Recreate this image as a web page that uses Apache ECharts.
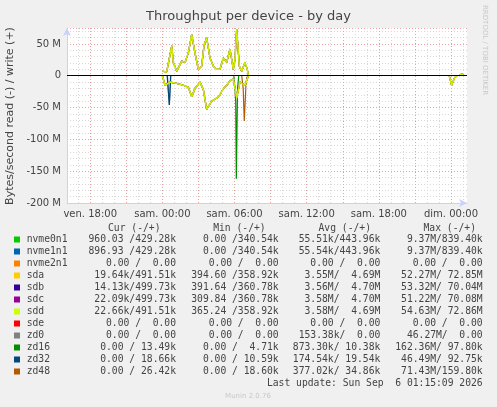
<!DOCTYPE html>
<html><head><meta charset="utf-8">
<script src="https://cdn.jsdelivr.net/npm/echarts@6/dist/echarts.min.js"></script>
<style>html,body{margin:0;background:#f0f0f0}#c{width:497px;height:407px}</style>
</head><body><div id="c"></div>
<script>
// hours relative to Sat 00:00, values in M bytes/s (null = no drawn segment)
const sdWrite = [[0.00,7],[0.36,6],[0.78,47],[0.91,21],[1.19,7],[1.61,23],[1.88,21],[2.16,36],[2.44,65],[2.71,36],[2.99,10],[3.27,15],[3.46,47],[3.68,60],[3.96,28],[4.24,15],[4.52,10],[4.79,10],[5.07,28],[5.35,21],[5.62,42],[5.90,10],[6.04,26],[6.18,73],[6.40,15],[6.59,7],[6.87,21],[7.06,10],[7.15,0],[15,null],[24.7,0],[24.9,3],[25.1,0]];
const sdRead = [[0.00,0],[0.22,-15],[0.64,-10],[1.19,-12],[1.75,-15],[2.16,-18],[2.44,-33],[2.71,-20],[3.13,-10],[3.41,-22],[3.68,-53],[4.10,-40],[4.52,-35],[4.79,-30],[5.07,-20],[5.35,-15],[5.62,-8],[5.90,-5],[6.04,-20],[6.18,-35],[6.45,-10],[6.87,-15],[7.15,0],[15,null],[23.85,0],[24.05,-15],[24.3,-3],[24.5,0]];
const zd32Read = [[0.40,0],[0.58,-46],[0.70,0]];
const zd0Read = [[0.42,0],[0.58,-46],[0.68,0]];
const zd16Read = [[5.95,0],[6.10,-40],[6.15,-162],[6.25,-20],[6.35,0]];
const zd48Read = [[6.60,0],[6.72,-20],[6.81,-71],[6.95,-15],[7.05,0]];
const yTicks = [-200,-150,-100,-50,0,50];
const xLabelHours = [-6,0,6,12,18,24];
const xLabels = ['ven. 18:00','sam. 00:00','sam. 06:00','sam. 12:00','sam. 18:00','dim. 00:00'];
const legNames = ['nvme0n1','nvme1n1','nvme2n1','sda','sdb','sdc','sdd','sde','zd0','zd16','zd32','zd48'];
const legColors = ['#00cc00','#0066b3','#ff8000','#ffcc00','#330099','#990099','#ccff00','#ff0000','#808080','#008f00','#00487d','#b35a00'];
const legCur = ['960.03 /429.28k','896.93 /429.28k','0.00 /  0.00','19.64k/491.51k','14.13k/499.73k','22.09k/499.73k','22.66k/491.51k','0.00 /  0.00','0.00 /  0.00','0.00 / 13.49k','0.00 / 18.66k','0.00 / 26.42k'];
const legMin = ['0.00 /340.54k','0.00 /340.54k','0.00 /  0.00','394.60 /358.92k','391.64 /360.78k','309.84 /360.78k','365.24 /358.92k','0.00 /  0.00','0.00 /  0.00','0.00 /  4.71k','0.00 / 10.59k','0.00 / 18.60k'];
const legAvg = ['55.51k/443.96k','55.54k/443.96k','0.00 /  0.00','3.55M/  4.69M','3.56M/  4.70M','3.58M/  4.70M','3.58M/  4.69M','0.00 /  0.00','153.38k/  0.00','873.30k/ 10.38k','174.54k/ 19.54k','377.02k/ 34.86k'];
const legMax = ['9.37M/839.40k','9.37M/839.40k','0.00 /  0.00','52.27M/ 72.85M','53.32M/ 70.04M','51.22M/ 70.08M','54.63M/ 72.86M','0.00 /  0.00','46.27M/  0.00','162.36M/ 97.80k','46.49M/ 92.75k','71.43M/159.80k'];

const toM = a => a.map(p => [p[0], p[1] === null ? '-' : p[1]*1e6]);
const ser = (name, data, color, z, w) => ({name, type:'line', data: toM(data), connectNulls:false, showSymbol:false, lineStyle:{width:w||1.2,color}, itemStyle:{color}, z: z||3, animation:false});
const series = [
  ser('zd0', zd0Read, '#808080'),
  ser('zd32', zd32Read, '#00487d'),
  ser('zd16', zd16Read, '#008f00'),
  ser('zd48', zd48Read, '#b35a00'),
  ser('sdb', sdWrite, '#330099'), ser('sdb-r', sdRead, '#330099'),
  ser('sdc', sdWrite, '#990099'), ser('sdc-r', sdRead, '#990099'),
  ser('sda', sdWrite, '#c8a040', 4), ser('sda-r', sdRead, '#c8a040', 4),
  ser('sdd', sdWrite, '#ccee00', 5, 1.5), ser('sdd-r', sdRead, '#ccee00', 5, 1.5)
];
const hourLines = [];
for (let h = -7; h <= 25; h++) if (h % 3 !== 0) hourLines.push(h);
const redHours = [-6,-3,0,3,6,9,12,15,18,21,24];
series.push({type:'line', data:[], z:1, markLine:{silent:true, symbol:'none', label:{show:false}, animation:false,
  lineStyle:{color:'#d8d8d8', type:[1,2], width:1}, data: hourLines.map(h => ({xAxis:h}))}});
series.push({type:'line', data:[], z:1, markLine:{silent:true, symbol:'none', animation:false,
  lineStyle:{color:'#e8a0a0', type:[1,2], width:1},
  data: redHours.map(h => {
    const i = xLabelHours.indexOf(h);
    return {xAxis:h, label: i >= 0 ? {show:true, position:'start', distance:6, formatter: xLabels[i], color:'#444', fontSize:10, fontFamily:'DejaVu Sans'} : {show:false}};
  })}});
series.push({type:'line', data:[], z:20, markLine:{silent:true, z:20, symbol:'none', label:{show:false}, animation:false,
  lineStyle:{color:'#000', type:'solid', width:1}, data:[{yAxis:0}]}});

const gfx = [];
const mono = 'DejaVu Sans Mono';
gfx.push({type:'text', left:'center', top:10, style:{text:'Throughput per device - by day', font:'13px DejaVu Sans', fill:'#444'}});
gfx.push({type:'text', x:488, y:5, rotation:-Math.PI/2, style:{text:'RRDTOOL / TOBI OETIKER', font:'7px DejaVu Sans', fill:'#c8c8c8'}});
gfx.push({type:'text', x:10, y:116, rotation:Math.PI/2, style:{text:'Bytes/second read (-) / write (+)', font:'11px DejaVu Sans', fill:'#444', align:'center', verticalAlign:'middle'}});
const hdr = ['Cur (-/+)','Min (-/+)','Avg (-/+)','Max (-/+)'];
const hdrX = [160.5,265.7,371,476];
hdr.forEach((t,i)=>gfx.push({type:'text', x:hdrX[i], y:228, style:{text:t, font:'9.7px '+mono, fill:'#444', align:'right', verticalAlign:'middle'}}));
const colX = [176,278.7,380.3,482.7];
legNames.forEach((n,i)=>{
  const y = 239.5 + i*12;
  gfx.push({type:'rect', shape:{x:14,y:y-3,width:6,height:6}, style:{fill:legColors[i]}});
  gfx.push({type:'text', x:26.7, y, style:{text:n, font:'9.7px '+mono, fill:'#444', verticalAlign:'middle'}});
  [legCur,legMin,legAvg,legMax].forEach((arr,j)=>gfx.push({type:'text', x:colX[j], y, style:{text:arr[i], font:'9.7px '+mono, fill:'#444', align:'right', verticalAlign:'middle'}}));
});
gfx.push({type:'text', x:482.7, y:383.5, style:{text:'Last update: Sun Sep  6 01:15:09 2026', font:'9.7px '+mono, fill:'#444', align:'right', verticalAlign:'middle'}});
gfx.push({type:'text', x:248, y:396, style:{text:'Munin 2.0.76', font:'7px DejaVu Sans', fill:'#c8c8c8', align:'center', verticalAlign:'middle'}});

const chart = echarts.init(document.getElementById('c'));
chart.setOption({
  animation:false, backgroundColor:'#f0f0f0',
  grid:{left:67, right:30, top:28, bottom:204, show:true, backgroundColor:'#fff', borderWidth:0},
  xAxis:{type:'value', min:-7.93, max:25.33,
    axisLine:{show:true, onZero:false, lineStyle:{color:'#c8d0ff'}, symbol:['none','arrow'], symbolSize:[6,8]},
    axisTick:{show:false}, axisLabel:{show:false}, splitLine:{show:false}},
  yAxis:{type:'value', min:-200e6, max:75e6, interval:50e6,
    axisLine:{show:true, onZero:false, lineStyle:{color:'#c8d0ff'}, symbol:['none','arrow'], symbolSize:[6,8]},
    axisTick:{show:false},
    axisLabel:{color:'#444', fontSize:10, fontFamily:'DejaVu Sans', margin:6,
      formatter: v => { const m = Math.round(v/1e6); return yTicks.includes(m) ? (m===0 ? '0' : m + ' M') : ''; }},
    splitLine:{show:true, lineStyle:{color:'#e8a0a0', type:[1,2]}},
    minorTick:{show:false, splitNumber:5},
    minorSplitLine:{show:true, lineStyle:{color:'#d8d8d8', type:[1,2]}}},
  series, graphic: gfx
});
</script></body></html>
